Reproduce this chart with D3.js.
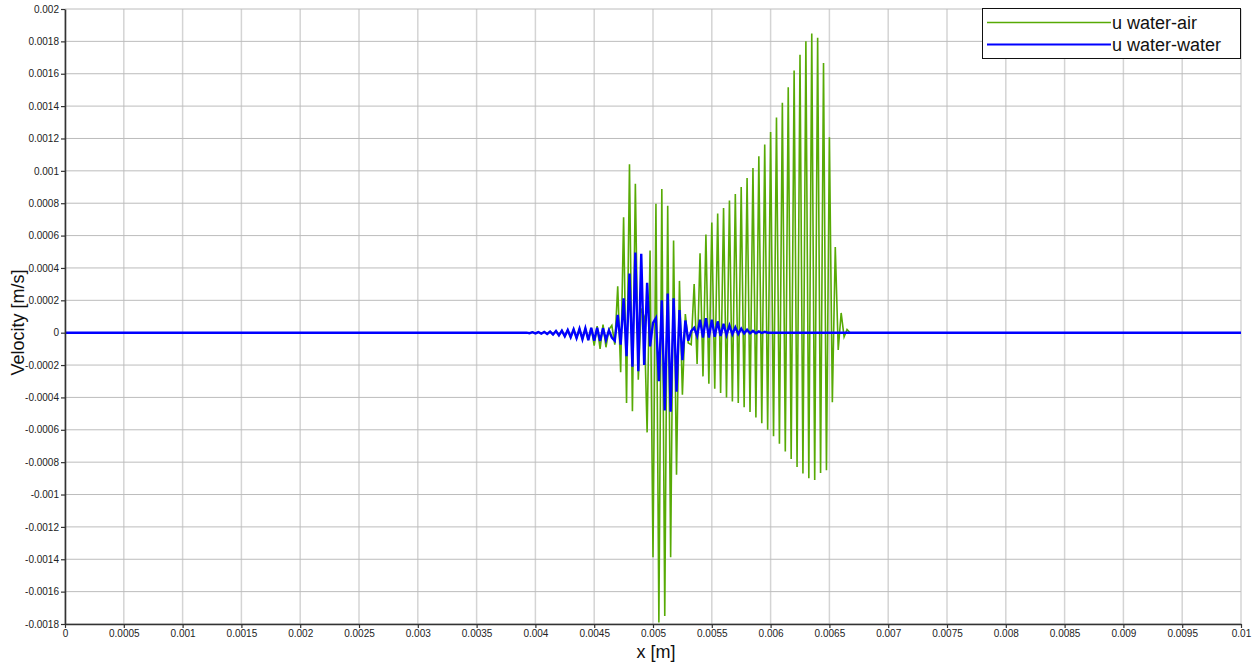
<!DOCTYPE html>
<html>
<head>
<meta charset="utf-8">
<script src="https://cdn.jsdelivr.net/npm/d3@7"></script>
<style>
  html, body { margin: 0; padding: 0; background: #fff; }
  svg { display: block; font-family: "Liberation Sans", Arial, Helvetica, sans-serif; }
</style>
</head>
<body>
<svg id="chart" width="1257" height="666"></svg>
<script>
// Axis ticks
const xTicks = [0, 0.0005, 0.001, 0.0015, 0.002, 0.0025, 0.003, 0.0035, 0.004, 0.0045, 0.005,
                0.0055, 0.006, 0.0065, 0.007, 0.0075, 0.008, 0.0085, 0.009, 0.0095, 0.01];
const xTickLabels = ["0", "0.0005", "0.001", "0.0015", "0.002", "0.0025", "0.003", "0.0035", "0.004", "0.0045", "0.005",
                     "0.0055", "0.006", "0.0065", "0.007", "0.0075", "0.008", "0.0085", "0.009", "0.0095", "0.01"];
const yTicks = [0.002, 0.0018, 0.0016, 0.0014, 0.0012, 0.001, 0.0008, 0.0006, 0.0004, 0.0002, 0,
                -0.0002, -0.0004, -0.0006, -0.0008, -0.001, -0.0012, -0.0014, -0.0016, -0.0018];
const yTickLabels = ["0.002", "0.0018", "0.0016", "0.0014", "0.0012", "0.001", "0.0008", "0.0006", "0.0004", "0.0002", "0",
                     "-0.0002", "-0.0004", "-0.0006", "-0.0008", "-0.001", "-0.0012", "-0.0014", "-0.0016", "-0.0018"];

// Domain ends: the velocity is zero outside the sampled window
const xStart = 0, xEnd = 0.01;
// Sampled window: first sample position and sample spacing [m]
const sampleStart = 0.0039;
const sampleStep = 0.000025;

// u water-air, one value per sample from x = 0.0039 to x = 0.0067
const waterAir = [
  0, 0, -0.000003, 0.000003, -0.000004, 0.000004, -0.000006, 0.000005, -0.000008, 0.000007,
  -0.000011, 0.00001, -0.000016, 0.000013, -0.000022, 0.000017, -0.000028, 0.000021, -0.000034, 0.000024,
  -0.00004, 0.000027, -0.000046, 0.00003, -0.00008, 0.00004, -0.0001, 0.00005, -0.00009, 0.00002,
  0.000045, -0.000074, 0.000286, -0.000245, 0.000713, -0.000435, 0.00104, -0.000486, 0.00092, -0.00029,
  0.00015, 0.0001, -0.000616, 0.000507, -0.001387, 0.000797, -0.00179, 0.000888, -0.00175, 0.000785,
  -0.001387, 0.00057, -0.000878, 0.00032, -0.000383, 0.000115, -0.000064, -0.000074, 0.0003, -0.000194,
  0.00049, -0.00027, 0.000606, -0.000315, 0.00068, -0.000346, 0.000736, -0.000373, 0.000771, -0.0004,
  0.000816, -0.000425, 0.000857, -0.000435, 0.0009, -0.00046, 0.000956, -0.00049, 0.001018, -0.000524,
  0.00109, -0.00056, 0.001162, -0.0006, 0.00124, -0.00064, 0.00133, -0.000686, 0.00142, -0.000734,
  0.001517, -0.00078, 0.00162, -0.00083, 0.001717, -0.00087, 0.0018, -0.0009, 0.001849, -0.00091,
  0.001822, -0.000867, 0.001667, -0.00085, 0.001207, -0.00043, 0.00053, -0.000107, 0.000122, -0.000025,
  0.00002, 0, 0
];

// u water-water, same sample positions
const waterWater = [
  0, 0, -0.000003, 0.000003, -0.000004, 0.000004, -0.000006, 0.000005, -0.000008, 0.000007,
  -0.000011, 0.00001, -0.000016, 0.000013, -0.000022, 0.000017, -0.000028, 0.000021, -0.000034, 0.000024,
  -0.00004, 0.000027, -0.000046, 0.00003, -0.00005, 0.00003, -0.000052, 0.000028, -0.000045, 0.000015,
  -0.00003, -0.00005, 0.00011, -0.000074, 0.000212, -0.000145, 0.000365, -0.00021, 0.000495, -0.000238,
  0.000488, -0.0002, 0.000308, -0.000085, 0.00006, 0.00009, -0.0003, 0.0002, -0.00048, 0.000242,
  -0.000488, 0.000212, -0.000365, 0.00014, -0.00017, 0.000075, -0.00005, 0.00001, 0.00003, -0.00002,
  0.00008, -0.00003, 0.00009, -0.00003, 0.00008, -0.000025, 0.00007, -0.00002, 0.000055, -0.000015,
  0.000045, -0.00001, 0.000033, -0.000008, 0.000025, -0.000005, 0.000018, -0.000004, 0.000012, -0.000003,
  0.000008, -0.000002, 0.000005, 0, 0, 0, 0, 0, 0, 0,
  0, 0, 0, 0, 0, 0, 0, 0, 0, 0,
  0, 0, 0, 0, 0, 0, 0, 0, 0, 0,
  0, 0, 0
];

const seriesNames = ["u water-air", "u water-water"];
const seriesColors = ["#57aa05", "#0000ff"];

// ---- layout ----
const margin = { left: 65, right: 16, top: 9, bottom: 42 };
const width = 1257, height = 666;
const svg = d3.select("#chart");

const x = d3.scaleLinear().domain([xStart, xEnd]).range([margin.left, width - margin.right]);
const y = d3.scaleLinear().domain([-0.0018, 0.002]).range([height - margin.bottom, margin.top]);

function toPoints(values) {
  const pts = [[xStart, 0]];
  values.forEach((v, i) => pts.push([sampleStart + i * sampleStep, v]));
  pts.push([xEnd, 0]);
  return pts;
}

// grid
const grid = svg.append("g");
grid.selectAll("line.v").data(xTicks).join("line")
  .attr("x1", d => x(d)).attr("x2", d => x(d))
  .attr("y1", y(0.002)).attr("y2", y(-0.0018))
  .attr("stroke", "#d4d4d4").attr("stroke-width", 1.5);
grid.selectAll("line.h").data(yTicks).join("line")
  .attr("x1", x(0)).attr("x2", x(0.01))
  .attr("y1", d => y(d)).attr("y2", d => y(d))
  .attr("stroke", "#bcbcbc").attr("stroke-width", 1);

// series
const line = d3.line().x(d => x(d[0])).y(d => y(d[1]));
svg.append("path").datum(toPoints(waterAir))
  .attr("fill", "none").attr("stroke", seriesColors[0]).attr("stroke-width", 1.6)
  .attr("stroke-linejoin", "miter").attr("d", line);
svg.append("path").datum(toPoints(waterWater))
  .attr("fill", "none").attr("stroke", seriesColors[1]).attr("stroke-width", 2.4)
  .attr("stroke-linejoin", "miter").attr("d", line);

// axes
const yAxis = d3.axisLeft(y).tickValues(yTicks).tickFormat((d, i) => yTickLabels[i])
  .tickSize(4).tickSizeOuter(0).tickPadding(2);
const xAxis = d3.axisBottom(x).tickValues(xTicks).tickFormat((d, i) => xTickLabels[i])
  .tickSize(4).tickSizeOuter(0).tickPadding(2);

const gy = svg.append("g").attr("transform", `translate(${margin.left},0)`).call(yAxis);
const gx = svg.append("g").attr("transform", `translate(0,${height - margin.bottom})`).call(xAxis);
[gx, gy].forEach(g => {
  g.select(".domain").attr("stroke", "#333").attr("stroke-width", 1.6);
  g.selectAll(".tick line").attr("stroke", "#333").attr("stroke-width", 1.2);
  g.selectAll(".tick text").attr("fill", "#222").style("font-size", "10px")
    .style("font-family", "'Liberation Sans', Arial, Helvetica, sans-serif");
});

// axis titles
svg.append("text")
  .attr("x", (margin.left + width - margin.right) / 2 + 3).attr("y", 658)
  .attr("text-anchor", "middle").style("font-size", "18px").attr("fill", "#111")
  .text("x [m]");
svg.append("text")
  .attr("transform", `translate(24,${(margin.top + height - margin.bottom) / 2 + 6}) rotate(-90)`)
  .attr("text-anchor", "middle").style("font-size", "18px").attr("fill", "#111")
  .text("Velocity [m/s]");

// legend
const lg = svg.append("g");
lg.append("rect").attr("x", 982.5).attr("y", 8.5).attr("width", 258).attr("height", 50)
  .attr("fill", "#fff").attr("stroke", "#111").attr("stroke-width", 1);
seriesNames.forEach((name, i) => {
  const yy = 22.5 + i * 22;
  lg.append("line").attr("x1", 987).attr("x2", 1111).attr("y1", yy).attr("y2", yy)
    .attr("stroke", seriesColors[i]).attr("stroke-width", i === 0 ? 1.6 : 2.2);
  lg.append("text").attr("x", 1112).attr("y", yy + 6.5)
    .style("font-size", "18px").attr("fill", "#111").text(name);
});
</script>
</body>
</html>
